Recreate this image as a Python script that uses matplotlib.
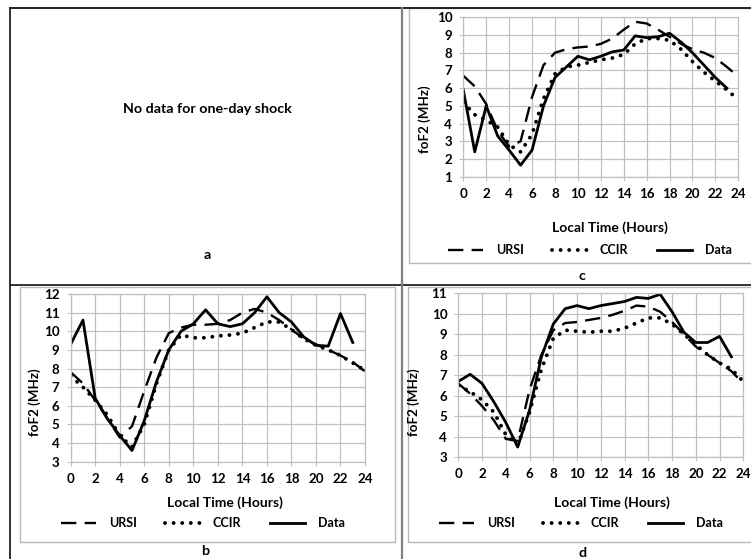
import matplotlib
matplotlib.use("Agg")
import matplotlib.pyplot as plt
from matplotlib.lines import Line2D
from matplotlib.patches import Rectangle

plt.rcParams["font.family"] = ["Lato", "DejaVu Sans"]
plt.rcParams["font.weight"] = "bold"

W, H = 751, 559

hours = list(range(25))

# panel b
b_ursi = [7.8, 7.2, 6.3, 5.3, 4.3, 4.9, 6.8, 8.6, 9.9, 10.2, 10.35, 10.35, 10.4,
          10.6, 11.0, 11.2, 11.0, 10.6, 10.1, 9.6, 9.3, 9.0, 8.7, 8.35, 7.85]
b_ccir = [7.6, 7.0, 6.3, 5.5, 4.4, 3.8, 5.0, 7.2, 9.0, 9.8, 9.65, 9.65, 9.75,
          9.8, 9.9, 10.2, 10.5, 10.5, 10.1, 9.6, 9.25, 9.0, 8.7, 8.3, 7.9]
b_data = [9.3, 10.6, 6.4, 5.3, 4.4, 3.6, 5.2, 7.3, 9.0, 10.0, 10.4, 11.15, 10.4,
          10.25, 10.4, 11.0, 11.85, 11.0, 10.5, 9.7, 9.25, 9.2, 10.95, 9.4]

# panel c
c_ursi = [6.7, 6.1, 5.1, 3.6, 2.7, 3.0, 5.5, 7.3, 8.0, 8.2, 8.3, 8.35, 8.5,
          8.8, 9.3, 9.75, 9.65, 9.3, 8.9, 8.5, 8.2, 8.0, 7.7, 7.2, 6.65]
c_ccir = [5.2, 4.5, 4.2, 3.8, 2.8, 2.4, 3.4, 5.4, 6.8, 7.2, 7.3, 7.45, 7.6,
          7.7, 7.9, 8.5, 8.8, 8.8, 8.7, 8.2, 7.5, 6.9, 6.4, 5.9, 5.35]
c_data = [5.9, 2.4, 5.0, 3.3, 2.5, 1.65, 2.5, 5.0, 6.6, 7.2, 7.8, 7.6, 7.8,
          8.05, 8.15, 8.95, 8.85, 8.9, 9.1, 8.6, 8.0, 7.3, 6.6, 6.0]

# panel d
d_ursi = [6.6, 6.1, 5.5, 4.8, 3.9, 3.8, 6.3, 8.0, 9.2, 9.55, 9.6, 9.7, 9.8,
          9.95, 10.15, 10.4, 10.35, 10.1, 9.6, 9.0, 8.4, 8.0, 7.6, 7.2, 6.6]
d_ccir = [6.5, 6.2, 5.8, 5.2, 4.1, 3.6, 5.2, 7.3, 8.8, 9.2, 9.15, 9.1, 9.15,
          9.15, 9.3, 9.55, 9.8, 9.8, 9.5, 9.0, 8.5, 8.0, 7.6, 7.3, 6.7]
d_data = [6.7, 7.05, 6.6, 5.7, 4.7, 3.5, 5.3, 7.9, 9.5, 10.25, 10.4, 10.25, 10.4,
          10.5, 10.6, 10.8, 10.75, 10.95, 10.1, 9.1, 8.6, 8.6, 8.9, 7.9]

GRID = "#c0c0c0"
FS = 9.6


def fx(x):
    return x / W


def fy(y):
    return 1 - y / H


def rect(l, t, r, b):
    return [fx(l), fy(b), fx(r) - fx(l), fy(t) - fy(b)]


fig = plt.figure(figsize=(W / 100, H / 100), dpi=100)

# chart area frames
for l, t, r, b in [(20, 287, 395, 542), (409, 8, W + 5, 263), (408, 287, W + 5, 542)]:
    fig.add_artist(Rectangle((fx(l), fy(b)), fx(r) - fx(l), fy(t) - fy(b),
                             fill=False, edgecolor="#b8b8b8", lw=1.0))

# table lines
fig.add_artist(Line2D([fx(10), 1], [fy(8), fy(8)], color="#222222", lw=1.4))
fig.add_artist(Line2D([fx(10), fx(10)], [fy(8), 0], color="#222222", lw=1.3))
fig.add_artist(Line2D([fx(10), 1], [fy(285), fy(285)], color="#222222", lw=1.3))
fig.add_artist(Line2D([fx(402), fx(402)], [fy(8), 0], color="#808080", lw=1.6))

fig.text(fx(207), fy(109), "No data for one-day shock", ha="center", va="center",
         fontsize=10.3, fontweight="bold")
fig.text(fx(207), fy(255), "a", ha="center", va="center", fontsize=10.3, fontweight="bold")

panels = [
    ("b", rect(70.7, 294, 365, 461.7), (3, 12), b_ursi, b_ccir, b_data,
     (225, 503), (35, 402), (203, 523), (205, 551)),
    ("c", rect(463.3, 17.3, 738.3, 176.7), (1, 10), c_ursi, c_ccir, c_data,
     (610, 228), (425, 119), (590, 250), (582, 276)),
    ("d", rect(458.3, 293.3, 743.3, 457.3), (3, 11), d_ursi, d_ccir, d_data,
     (612, 503), (414, 402), (581, 523), (583, 553)),
]

for name, pos, ylim, ursi, ccir, data, xl, yl, lg, pl in panels:
    ax = fig.add_axes(pos)
    ax.plot(hours, ursi, color="black", lw=1.7, ls=(0, (6.5, 3.5)), label="URSI")
    ax.plot(hours, ccir, color="black", lw=2.8, ls=(0, (0.01, 2.2)),
            dash_capstyle="round", label="CCIR")
    ax.plot(hours[:len(data)], data, color="black", lw=2.0, label="Data")
    ax.set_xlim(0, 24)
    ax.set_ylim(*ylim)
    ax.set_xticks(range(0, 25, 2))
    ax.set_yticks(range(ylim[0], ylim[1] + 1))
    ax.grid(True, color=GRID, lw=0.9)
    ax.set_axisbelow(True)
    for s in ax.spines.values():
        s.set_color(GRID)
        s.set_linewidth(0.9)
    ax.tick_params(length=3, color=GRID, labelsize=FS, pad=5)
    for t in ax.get_xticklabels() + ax.get_yticklabels():
        t.set_fontweight("bold")
    fig.text(fx(xl[0]), fy(xl[1]), "Local Time (Hours)", ha="center", va="center",
             fontsize=FS + 0.4, fontweight="bold")
    fig.text(fx(yl[0]), fy(yl[1]), "foF2 (MHz)", ha="center", va="center",
             rotation=90, fontsize=FS, fontweight="bold")
    fig.legend(handles=ax.get_lines(), loc="center", bbox_to_anchor=(fx(lg[0]), fy(lg[1])),
               ncol=3, frameon=False, fontsize=FS - 0.6, handlelength=2.8,
               handletextpad=1.0, columnspacing=2.3, borderpad=0)
    fig.text(fx(pl[0]), fy(pl[1]), name, ha="center", va="center",
             fontsize=10.3, fontweight="bold")

fig.savefig("out.png", dpi=100)
